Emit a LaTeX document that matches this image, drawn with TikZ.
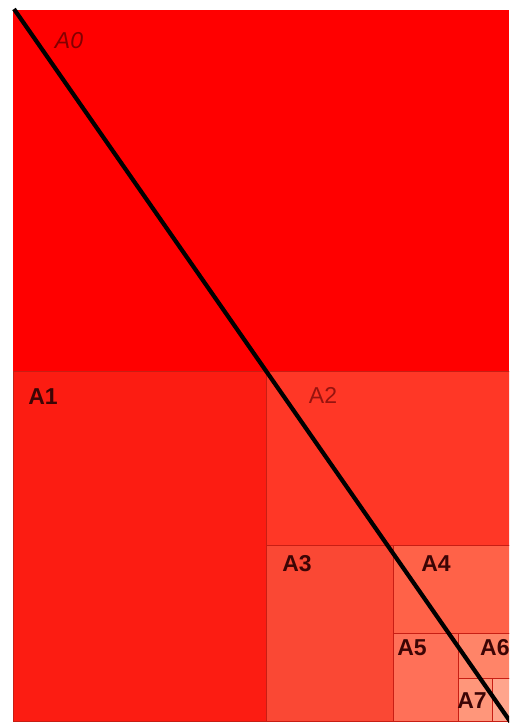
\documentclass[tikz,border=0pt]{standalone}
\usepackage{fontspec}
\setmainfont{Liberation Sans}
\definecolor{c0}{RGB}{255,0,0}
\definecolor{c1}{RGB}{252,28,18}
\definecolor{c2}{RGB}{255,55,38}
\definecolor{c3}{RGB}{250,72,52}
\definecolor{c4}{RGB}{255,98,72}
\definecolor{c5}{RGB}{255,112,88}
\definecolor{c6}{RGB}{255,132,104}
\definecolor{c7}{RGB}{255,150,122}
\definecolor{c8}{RGB}{255,165,140}
\definecolor{edge}{RGB}{200,30,20}
\definecolor{lab}{RGB}{60,5,5}
\definecolor{laba}{RGB}{130,0,0}
\definecolor{labb}{RGB}{150,20,15}
\begin{document}
\begin{tikzpicture}[x=1pt,y=-1pt,
  cell/.style={draw=edge,line width=0.6pt},
  lbl/.style={font=\bfseries\fontsize{23}{23}\selectfont,text=lab,inner sep=0pt},
  diag/.style={line width=4.2pt,black}]
\useasboundingbox (0,0) rectangle (509,723);
\fill[white] (0,0) rectangle (509,723);
\begin{scope}
\clip (0,0) rectangle (509,723);
\fill[c0] (13,10) rectangle (509,371);
\filldraw[cell,fill=c1] (13,371) rectangle (266,721);
\filldraw[cell,fill=c2] (266,371) rectangle (515,545);
\filldraw[cell,fill=c3] (266,545) rectangle (393,721);
\filldraw[cell,fill=c4] (393,545) rectangle (515,633);
\filldraw[cell,fill=c5] (393,633) rectangle (458,721);
\filldraw[cell,fill=c6] (458,633) rectangle (515,678);
\filldraw[cell,fill=c7] (458,678) rectangle (492,721);
\filldraw[cell,fill=c8] (492,678) rectangle (515,721);
\node[lbl,text=laba,font=\itshape\fontsize{23}{23}\selectfont] (a0) at (69,41) {A0};
\node[lbl] (a1) at (43,397) {A1};
\node[lbl,text=labb,font=\fontsize{23}{23}\selectfont] (a2) at (323,395) {A2};
\node[lbl] (a3) at (297,564) {A3};
\node[lbl] (a4) at (436,564) {A4};
\node[lbl] (a5) at (412,648) {A5};
\node[lbl,anchor=west] (a6) at (480,648) {A6};
\node[lbl] (a7) at (472,701) {A7};
\coordinate (s) at (14,9);
\coordinate (e) at (514,727);
\draw[diag] (s) -- (e);
\end{scope}
\end{tikzpicture}
\end{document}
